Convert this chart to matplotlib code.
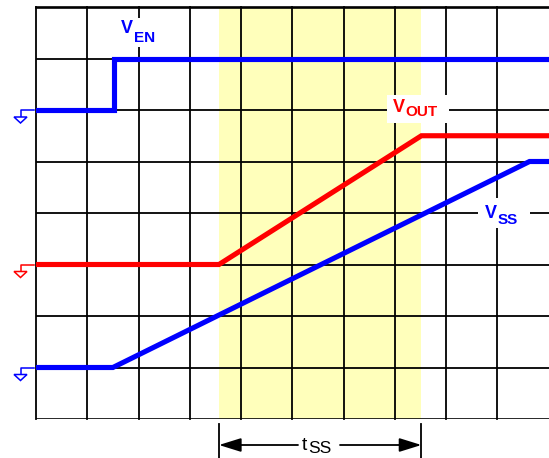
import matplotlib
matplotlib.use("Agg")
import matplotlib.pyplot as plt
from matplotlib.patches import Rectangle, Polygon

# ---- data (grid units: x = divisions, y = divisions from bottom) ----
ven_x = [-0.04, 1.52, 1.52, 10.05]
ven_y = [6, 6, 7, 7]
vout_x = [-0.04, 3.57, 7.52, 10.05]
vout_y = [3, 3, 5.5, 5.5]
vss_x = [-0.04, 1.50, 9.63, 10.05]
vss_y = [1, 1, 5, 5]
tss_start, tss_end = 3.57, 7.52
n_cols, n_rows = 10, 8

BLUE = "#0000ff"
RED = "#ff0000"
YELLOW = "#ffffbb"

W, H = 549, 458
X0, Y0 = 36, 419          # pixel of grid origin
DX, DY = 51.25, 51.5      # pixel per division

def px(x, y):
    return ((x - X0) / DX, (Y0 - y) / DY)

fig = plt.figure(figsize=(W / 100, H / 100), dpi=100)
ax = fig.add_axes([X0 / W, (H - Y0) / H, (W - X0) / W, (Y0 - 7) / H])
ax.set_xlim(0, (W - X0) / DX)
ax.set_ylim(0, n_rows)
ax.axis("off")

# soft-start band
ax.axvspan(tss_start, tss_end, color=YELLOW, zorder=0, lw=0)

# grid
for i in range(n_cols):
    ax.plot([i, i], [0, n_rows], color="black", lw=1.3, zorder=1, clip_on=False)
for j in range(1, n_rows):
    ax.plot([0, 11], [j, j], color="black", lw=1.3, zorder=1)
ax.plot([0, 11], [0, 0], color="black", lw=1.9, zorder=1, clip_on=True)
ax.plot([0, 11], [n_rows, n_rows], color="black", lw=1.9, zorder=1, clip_on=False)

# white boxes behind labels
def white_box(x1, y1, x2, y2):
    a = px(x1, y2)
    b = px(x2, y1)
    ax.add_patch(Rectangle(a, b[0] - a[0], b[1] - a[1], facecolor="white",
                           edgecolor="none", zorder=2, clip_on=False))

white_box(118, 18, 161, 47)
white_box(387, 95, 449, 123)
white_box(478, 198, 530, 228)

# traces
for xs, ys, c in [(ven_x, ven_y, BLUE), (vout_x, vout_y, RED), (vss_x, vss_y, BLUE)]:
    ax.plot(xs, ys, color=c, lw=3.7, zorder=3, solid_capstyle="butt",
            solid_joinstyle="miter", clip_on=True)

# ground symbols
def ground(level, color):
    ypx = Y0 - level * DY
    pts = [px(34, ypx), px(20.5, ypx), px(20.5, ypx + 7)]
    ax.plot([p[0] for p in pts], [p[1] for p in pts], color=color, lw=1.1,
            zorder=3, clip_on=False)
    tri = [px(14, ypx + 7), px(27, ypx + 7), px(20.5, ypx + 13)]
    ax.add_patch(Polygon(tri, closed=True, facecolor="white", edgecolor=color,
                         lw=1.1, zorder=3, clip_on=False))

ground(ven_y[0], BLUE)
ground(vout_y[0], RED)
ground(vss_y[0], BLUE)

# labels
def label(xp, yp, main, sub, color, dy, s1=13, s2=11, weight="bold"):
    t = ax.text(*px(xp, yp), main, color=color, fontsize=s1, fontweight=weight,
                family="Liberation Sans", ha="left", va="baseline", zorder=4,
                clip_on=False)
    ax.annotate(sub, xy=(1, 0), xycoords=t, xytext=(0.6, dy),
                textcoords="offset points", color=color, fontsize=s2,
                fontweight=weight, family="Liberation Sans", ha="left",
                va="bottom", zorder=4, annotation_clip=False)
    return t

label(121, 33.3, "V", "EN", BLUE, dy=-5.3)
label(393, 111.7, "V", "OUT", RED, dy=-2.4)
label(485, 218.3, "V", "SS", BLUE, dy=-3.6)

# tSS dimension
yarr = (Y0 - 445) / DY
ybot = (Y0 - 458) / DY
ytop = (Y0 - 424) / DY
for xv in (tss_start, tss_end):
    ax.plot([xv, xv], [ytop, ybot], color="black", lw=1.3, clip_on=False, zorder=4)
style = "-|>,head_length=1.35,head_width=0.42"
ax.annotate("", xy=(tss_start, yarr), xytext=px(298, 445), xycoords="data",
            arrowprops=dict(arrowstyle=style, color="black", lw=1.3,
                            shrinkA=0, shrinkB=0, mutation_scale=10),
            annotation_clip=False)
ax.annotate("", xy=(tss_end, yarr), xytext=px(340, 445), xycoords="data",
            arrowprops=dict(arrowstyle=style, color="black", lw=1.3,
                            shrinkA=0, shrinkB=0, mutation_scale=10),
            annotation_clip=False)
tt = ax.text(*px(302, 450), "t", color="black", fontsize=14,
             family="Liberation Sans", ha="left", va="baseline", clip_on=False)
ax.annotate("SS", xy=(1, 0), xycoords=tt, xytext=(0.3, -1.2),
            textcoords="offset points", color="black", fontsize=12.5,
            family="Liberation Sans", ha="left", va="bottom",
            annotation_clip=False)

fig.savefig("out.png", dpi=100)
